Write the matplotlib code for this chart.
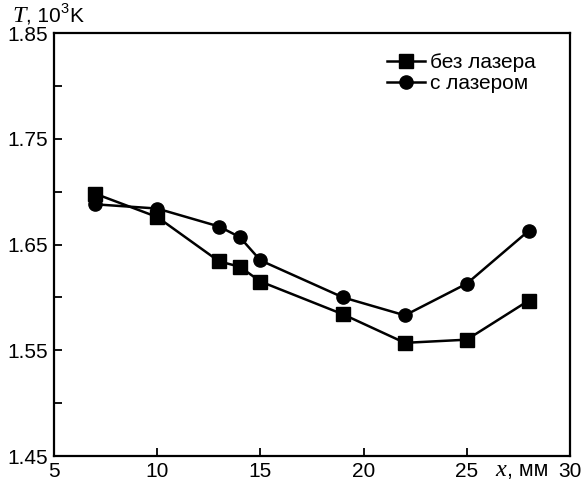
import matplotlib
matplotlib.use("Agg")
import matplotlib.pyplot as plt
from matplotlib.ticker import MultipleLocator

plt.rcParams['font.family'] = ['Liberation Sans', 'DejaVu Sans']

x = [7, 10, 13, 14, 15, 19, 22, 25, 28]
t_no_laser = [1.698, 1.676, 1.634, 1.629, 1.615, 1.584, 1.557, 1.560, 1.597]
t_laser = [1.688, 1.684, 1.667, 1.657, 1.635, 1.600, 1.583, 1.613, 1.663]

W, H = 584, 483
fig = plt.figure(figsize=(5.84, 4.83), dpi=100)
ax = fig.add_axes([54/W, 1-456/H, (570-54)/W, (456-33)/H])

ax.plot(x, t_no_laser, '-s', color='black', lw=1.8, ms=9.5, label='без лазера')
ax.plot(x, t_laser, '-o', color='black', lw=1.8, ms=9.5, label='с лазером')

ax.set_xlim(5, 30)
ax.set_ylim(1.45, 1.85)
ax.set_xticks([5, 10, 15, 20, 25, 30])
ax.set_yticks([1.45, 1.55, 1.65, 1.75, 1.85])
ax.yaxis.set_minor_locator(MultipleLocator(0.05))
ax.tick_params(axis='both', which='both', direction='in', labelsize=15,
               length=6, width=1.3, pad=4)
ax.set_yticklabels(['1.45', '1.55', '1.65', '1.75', '1.85'])
for s in ax.spines.values():
    s.set_linewidth(1.6)

# y axis title: T, 10^3 K
fig.text(12/W, 1-22/H, 'T', family='Liberation Serif', style='italic',
         fontsize=17.5, va='baseline', ha='left')
fig.text(26/W, 1-22/H, ', 10', fontsize=15, va='baseline', ha='left')
fig.text(60/W, 1-13/H, '3', fontsize=10.5, va='baseline', ha='left')
fig.text(69/W, 1-22/H, 'K', fontsize=15, va='baseline', ha='left')

# x axis title: x, мм
fig.text(495/W, 1-476/H, 'x', family='Liberation Serif', style='italic',
         fontsize=17.5, va='baseline', ha='left')
fig.text(507/W, 1-476/H, ', мм', fontsize=15.5, va='baseline', ha='left')

ax.legend(loc='upper left', bbox_to_anchor=((387-54)/516, (456-53)/423),
          frameon=False, fontsize=15, handlelength=1.8, handletextpad=0.25,
          labelspacing=0.1, borderpad=0, borderaxespad=0)

fig.savefig('out.png', dpi=100)
